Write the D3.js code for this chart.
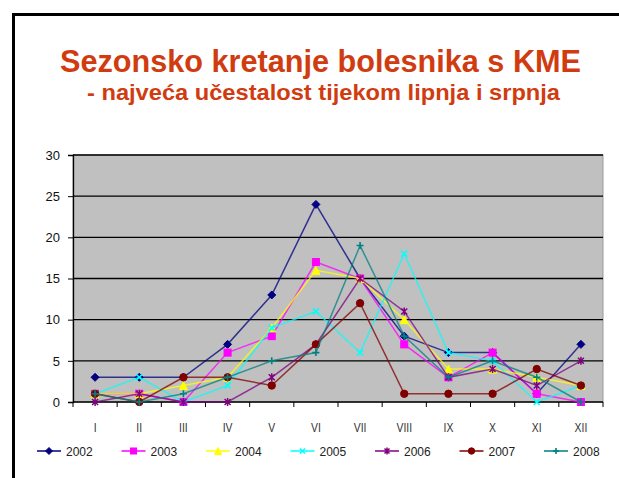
<!DOCTYPE html>
<html>
<head>
<meta charset="utf-8">
<script src="https://cdn.jsdelivr.net/npm/d3@7"></script>
<style>
  body { margin: 0; background: #fff; }
  svg { display: block; font-family: "Liberation Sans", Arial, sans-serif; }
</style>
</head>
<body>
<div id="chart"></div>
<script>
// Data
const months = ["I", "II", "III", "IV", "V", "VI", "VII", "VIII", "IX", "X", "XI", "XII"];
const years = ["2002", "2003", "2004", "2005", "2006", "2007", "2008"];
const y2002 = [3, 3, 3, 7, 13, 24, 15, 8, 6, 6, 1, 7];
const y2003 = [1, 1, 0, 6, 8, 17, 15, 7, 3, 6, 1, 0];
const y2004 = [1, 1, 2, 3, 9, 16, 15, 10, 4, 4, 3, 2];
const y2005 = [1, 3, 0, 2, 9, 11, 6, 18, 6, 5, 0, 2];
const y2006 = [0, 1, 0, 0, 3, 7, 15, 11, 3, 4, 2, 5];
const y2007 = [1, 0, 3, 3, 2, 7, 12, 1, 1, 1, 4, 2];
const y2008 = [1, 0, 1, 3, 5, 6, 19, 8, 3, 5, 3, 0];
const yTicks = [0, 5, 10, 15, 20, 25, 30];

const seriesValues = [y2002, y2003, y2004, y2005, y2006, y2007, y2008];
const colors = ["#000080", "#ff00ff", "#ffff00", "#00ffff", "#800080", "#800000", "#008080"];
const symbols = ["diamond", "square", "triangle", "x", "star", "circle", "plus"];

const W = 619, H = 478;
const margin = {top: 155, right: 16, bottom: 76, left: 73};
const width = W - margin.left - margin.right,
    height = H - margin.top - margin.bottom;

const svg = d3.select("#chart")
    .append("svg")
    .attr("width", W)
    .attr("height", H);

// slide frame (only top and left edges are visible)
svg.append("path")
    .attr("d", "M13.5," + H + "V14.5H" + W)
    .attr("fill", "none")
    .attr("stroke", "#000")
    .attr("stroke-width", 3);

// Titles
svg.append("text")
    .attr("x", 60).attr("y", 72)
    .attr("font-size", 31).attr("font-weight", "bold")
    .attr("fill", "#d03c10")
    .attr("textLength", 521)
    .attr("lengthAdjust", "spacingAndGlyphs")
    .text("Sezonsko kretanje bolesnika s KME");
svg.append("text")
    .attr("x", 87).attr("y", 100)
    .attr("font-size", 22).attr("font-weight", "bold")
    .attr("fill", "#d03c10")
    .attr("textLength", 473)
    .attr("lengthAdjust", "spacingAndGlyphs")
    .text("- najveća učestalost tijekom lipnja i srpnja");

const g = svg.append("g")
    .attr("transform", "translate(" + margin.left + "," + margin.top + ")");

const x = d3.scaleBand()
    .domain(months)
    .range([0, width]);
const y = d3.scaleLinear()
    .domain([0, 30])
    .range([height, 0]);

// plot area
g.append("rect")
    .attr("width", width).attr("height", height)
    .attr("fill", "#c0c0c0")
    .attr("stroke", "#9a9a9a");

// gridlines
g.append("g")
    .selectAll("line")
    .data(yTicks.filter(d => d > 0))
    .join("line")
    .attr("x1", 0).attr("x2", width)
    .attr("y1", d => y(d)).attr("y2", d => y(d))
    .attr("stroke", "#000")
    .attr("stroke-width", 1.3);

// Y axis
const yAxis = g.append("g")
    .call(d3.axisLeft(y).tickValues(yTicks).tickSize(5).tickPadding(8));
yAxis.select(".domain").attr("stroke", "#000").attr("stroke-width", 1.3);
yAxis.selectAll("text").attr("font-size", 13).attr("fill", "#111");

// X axis with ticks between categories
const xAxis = g.append("g")
    .attr("transform", "translate(0," + height + ")");
xAxis.append("line")
    .attr("x1", 0).attr("x2", width)
    .attr("stroke", "#000").attr("stroke-width", 1.3);
xAxis.selectAll("line.tk")
    .data(d3.range(months.length + 1))
    .join("line")
    .attr("class", "tk")
    .attr("x1", i => i * x.step()).attr("x2", i => i * x.step())
    .attr("y1", 0).attr("y2", 5)
    .attr("stroke", "#000");
xAxis.selectAll("text")
    .data(months)
    .join("text")
    .attr("transform", d => "translate(" + (x(d) + x.bandwidth() / 2) + ",30) scale(0.8,1)")
    .attr("text-anchor", "middle")
    .attr("font-size", 13)
    .attr("fill", "#333")
    .text(d => d);

// marker drawing
function drawMarker(sel, type, color, s) {
    const h = s / 2;
    if (type === "diamond") {
        sel.append("path").attr("d", "M0," + (-h) + "L" + h + ",0L0," + h + "L" + (-h) + ",0Z")
            .attr("fill", color).attr("stroke", color);
    } else if (type === "square") {
        sel.append("rect").attr("x", -h + 0.5).attr("y", -h + 0.5)
            .attr("width", s - 1).attr("height", s - 1)
            .attr("fill", color).attr("stroke", color);
    } else if (type === "triangle") {
        sel.append("path").attr("d", "M0," + (-h) + "L" + h + "," + h + "L" + (-h) + "," + h + "Z")
            .attr("fill", color).attr("stroke", color);
    } else if (type === "circle") {
        sel.append("circle").attr("r", h - 0.3)
            .attr("fill", color).attr("stroke", color);
    } else if (type === "x") {
        const q = h - 1;
        sel.append("path").attr("d", "M" + (-q) + "," + (-q) + "L" + q + "," + q + "M" + q + "," + (-q) + "L" + (-q) + "," + q)
            .attr("stroke", color).attr("stroke-width", 1.6);
    } else if (type === "star") {
        const q = h - 1;
        sel.append("path").attr("d", "M" + (-q) + "," + (-q) + "L" + q + "," + q + "M" + q + "," + (-q) + "L" + (-q) + "," + q +
            "M0," + (-h) + "L0," + h)
            .attr("stroke", color).attr("stroke-width", 1.5);
    } else if (type === "plus") {
        const q = h - 0.5;
        sel.append("path").attr("d", "M" + (-q) + ",0L" + q + ",0M0," + (-q) + "L0," + q)
            .attr("stroke", color).attr("stroke-width", 1.6);
    }
}

const line = d3.line()
    .x((d, i) => x(months[i]) + x.bandwidth() / 2)
    .y(d => y(d));

seriesValues.forEach((vals, k) => {
    g.append("path")
        .datum(vals)
        .attr("fill", "none")
        .attr("stroke", colors[k])
        .attr("stroke-opacity", 0.75)
        .attr("stroke-width", 1.5)
        .attr("d", line);
    vals.forEach((v, i) => {
        const m = g.append("g")
            .attr("transform", "translate(" + (x(months[i]) + x.bandwidth() / 2) + "," + y(v) + ")");
        drawMarker(m, symbols[k], colors[k], 8);
    });
});

// Legend
const legendY = 451;
years.forEach((yr, k) => {
    const lg = svg.append("g").attr("transform", "translate(" + (37 + k * 84.5) + "," + legendY + ")");
    lg.append("line").attr("x1", 0).attr("x2", 24).attr("y1", 0).attr("y2", 0)
        .attr("stroke", colors[k]).attr("stroke-width", 1.5);
    const m = lg.append("g").attr("transform", "translate(12,0)");
    drawMarker(m, symbols[k], colors[k], 7);
    lg.append("text")
        .attr("x", 29).attr("y", 4.5)
        .attr("font-size", 12)
        .attr("fill", "#222")
        .text(yr);
});
</script>
</body>
</html>
